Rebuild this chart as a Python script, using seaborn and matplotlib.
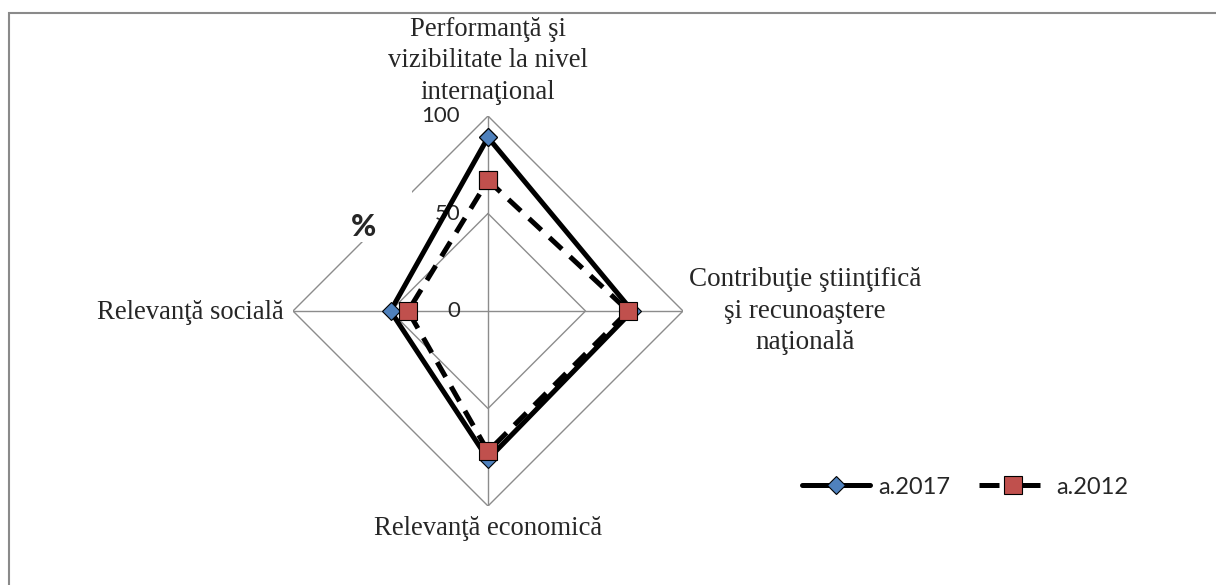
import numpy as np
import pandas as pd
import seaborn as sns
import matplotlib
matplotlib.use("Agg")
from matplotlib import pyplot as plt
from matplotlib.lines import Line2D
from matplotlib.patches import Rectangle

# date (%)
categories = ["Performanţă şi\nvizibilitate la nivel\ninternaţional",
              "Contribuţie ştiinţifică\nşi recunoaştere\nnaţională",
              "Relevanţă economică",
              "Relevanţă socială"]
v2017 = [89, 74, 76, 50]
v2012 = [67, 72, 72, 41]
rticks = [0, 50, 100]
series_names = ["a.2017", "a.2012"]

sns.set_style("white")
plt.rcParams["font.family"] = ["Lato", "DejaVu Sans"]

fig = plt.figure(figsize=(12.16, 5.85), dpi=100)
ax = fig.add_axes([293 / 1216, 79 / 585, 390 / 1216, 390 / 585], projection="polar")
ax.set_theta_zero_location("N")
ax.set_theta_direction(-1)
ax.set_ylim(0, 100)
ax.grid(False)
ax.spines["polar"].set_visible(False)
ax.set_xticks([])
ax.set_yticks([])
ax.patch.set_alpha(0)

n = len(categories)
theta = np.linspace(0, 2 * np.pi, n, endpoint=False)
theta_c = np.append(theta, 2 * np.pi)

grid_col = "#8c8c8c"
for r in rticks[1:]:
    ax.plot(theta_c, [r] * (n + 1), color=grid_col, lw=1, zorder=1)
for t in theta:
    ax.plot([t, t], [0, rticks[-1]], color=grid_col, lw=1, zorder=1)

df = pd.DataFrame({"theta": np.tile(theta_c, 2),
                   "val": v2017 + v2017[:1] + v2012 + v2012[:1],
                   "an": np.repeat(series_names, n + 1)})

d17 = df[df["an"] == "a.2017"]
d12 = df[df["an"] == "a.2012"]
lw = 3.6
sns.lineplot(data=d17, x="theta", y="val", ax=ax, sort=False, color="black",
             lw=lw, marker="D", ms=9, mfc="#4F81BD", mec="black", mew=0.8,
             legend=False, zorder=3, clip_on=False)
sns.lineplot(data=d12, x="theta", y="val", ax=ax, sort=False, color="black",
             lw=lw, linestyle=(0, (3.4, 2.2)), marker="s", ms=13, mfc="#C0504D",
             mec="black", mew=0.8, legend=False, zorder=4, clip_on=False)
ax.set_xlabel("")
ax.set_ylabel("")

serif = ["Liberation Serif", "DejaVu Serif"]
fs = 19.2
ls = 1.34
ax.annotate(categories[0], xy=(theta[0], 100), xytext=(0, 8), textcoords="offset points",
            ha="center", va="bottom", multialignment="center", fontsize=fs,
            family=serif, linespacing=ls)
ax.annotate(categories[1], xy=(theta[1], 100), xytext=(4, 0), textcoords="offset points",
            ha="left", va="center", multialignment="center", fontsize=19.5,
            family=serif, linespacing=ls)
ax.annotate(categories[2], xy=(theta[2], 100), xytext=(0, -7), textcoords="offset points",
            ha="center", va="top", fontsize=fs, family=serif)
ax.annotate(categories[3], xy=(theta[3], 100), xytext=(-7, -1), textcoords="offset points",
            ha="right", va="center", fontsize=fs, family=serif)

for r in rticks:
    ax.annotate(str(r), xy=(0, r), xytext=(-20, 0), textcoords="offset points",
                ha="right", va="center", fontsize=16, zorder=2)

# titlul axei (%), cu fundal alb care acopera grila
fig.add_artist(Rectangle((340 / 1216, (585 - 242) / 585), 72 / 1216, 52 / 585,
                         transform=fig.transFigure, facecolor="white",
                         edgecolor="none", zorder=2))
fig.text(363 / 1216, (585 - 227) / 585, "%", ha="center", va="center",
         fontsize=22, fontweight="black", zorder=3)

handles = [Line2D([], [], color="black", lw=lw, marker="D", ms=9, mfc="#4F81BD",
                  mec="black", mew=0.8),
           Line2D([], [], color="black", lw=lw, linestyle=(0, (4.0, 4.2)), marker="s",
                  ms=13, mfc="#C0504D", mec="black", mew=0.8)]
fig.legend(handles, series_names, loc="center left", bbox_to_anchor=(802 / 1216, 98 / 585),
           ncol=2, frameon=False, fontsize=17, handlelength=2.9, handletextpad=0.35,
           columnspacing=1.2, borderpad=0, borderaxespad=0)

fig.add_artist(Rectangle((9 / 1216, -0.1), 1.2, (572 / 585) + 0.1,
                         transform=fig.transFigure, facecolor="none",
                         edgecolor="#8a8a8a", lw=1.5, zorder=0))

fig.savefig("out.png", dpi=100)
